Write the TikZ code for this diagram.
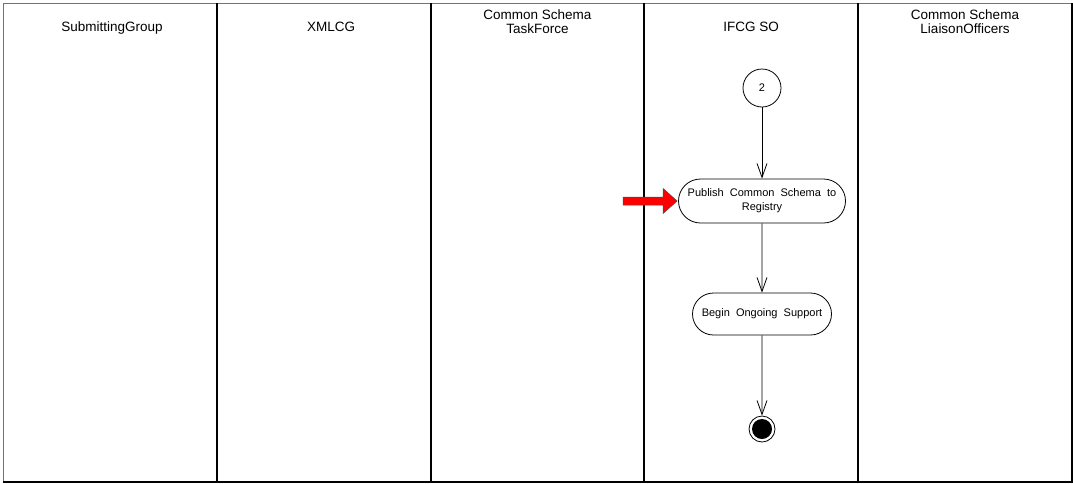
\documentclass[tikz,border=0pt]{standalone}
\usepackage{fontspec}
\setmainfont{Liberation Sans}
\usetikzlibrary{arrows.meta,shapes.misc}
\begin{document}
\begin{tikzpicture}[x=1pt,y=-1pt,
  hdr/.style={font=\fontsize{13.5}{13.5}\selectfont, align=center, inner sep=0pt},
  act/.style={draw, line width=0.8pt, rounded rectangle, inner sep=0pt, align=center,
     font=\fontsize{11}{14}\selectfont},
  flow/.style={draw, line width=0.8pt, -{Straight Barb[length=14pt,width=10pt,line width=0.8pt]}},
  lane/.style={line width=1.2pt, black}]
\useasboundingbox (0,0) rectangle (1073,483);
% swimlane frame
\draw[line width=1pt, black!55] (3,482) -- (3,3) -- (1072,3);
\draw[line width=1.4pt, black] (1072,3) -- (1072,482) -- (3,482);
\foreach \xx in {217,431,644,858} \draw[lane] (\xx,3) -- (\xx,482);
% headers
\node[hdr, anchor=base] (h1) at (112,31) {SubmittingGroup};
\node[hdr, anchor=base] (h2) at (331,31) {XMLCG};
\node[hdr, anchor=center] (h3) at (537.5,21.5) {Common Schema\\TaskForce};
\node[hdr, anchor=base] (h4) at (751,31) {IFCG SO};
\node[hdr, anchor=center] (h5) at (965,21.5) {Common Schema\\LiaisonOfficers};
% nodes
\node[draw, circle, line width=0.8pt, minimum size=38pt, inner sep=0pt,
      font=\fontsize{11}{13}\selectfont] (c2) at (762,88) {2};
\node[act, minimum width=167pt, minimum height=44pt] (pub) at (762,201)
   {Publish\ \ Common\ \ Schema\ \ to\\Registry};
\node[act, minimum width=139pt, minimum height=42pt] (bos) at (762,314)
   {Begin\ \ Ongoing\ \ Support};
\node[circle, draw, line width=0.8pt, minimum size=26pt, inner sep=0pt] (end) at (762,429) {};
\fill[black] (end.center) circle (10pt);
% connectors
\draw[flow] (c2) -- (pub);
\draw[flow] (pub) -- (bos);
\draw[flow] (bos) -- (end);
% red pointer arrow
\coordinate (tip) at ([xshift=-1pt]pub.west);
\filldraw[fill=red, draw=black!70, line width=0.5pt]
  (tip) -- ++(-14,-12.5) -- ++(0,8.5) -- ++(-40,0) -- ++(0,8) -- ++(40,0) -- ++(0,8.5) -- cycle;
\end{tikzpicture}
\end{document}
